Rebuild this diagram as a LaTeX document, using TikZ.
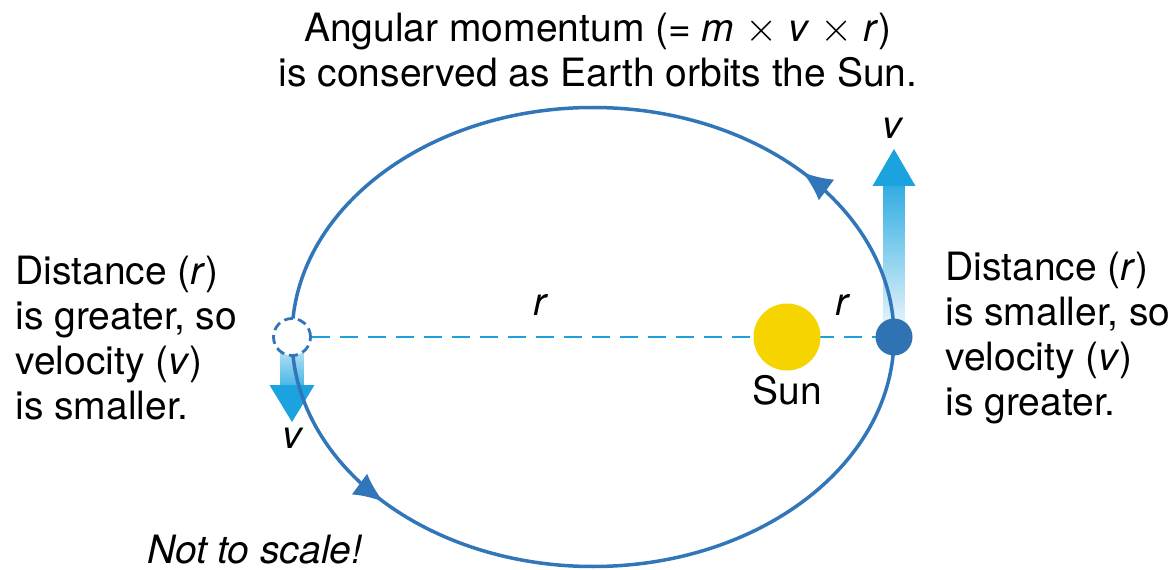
\documentclass[tikz,border=0pt]{standalone}
\usepackage{fontspec}
\setmainfont{TeX Gyre Heros}
\usepackage{xcolor}
\usetikzlibrary{arrows.meta,positioning,decorations.markings}
\definecolor{orbitblue}{RGB}{50,118,186}
\definecolor{dashblue}{RGB}{30,160,218}
\definecolor{velblue}{RGB}{26,163,222}
\definecolor{sunyellow}{RGB}{245,212,0}
\definecolor{earthblue}{RGB}{47,115,180}

\begin{document}
\begin{tikzpicture}[x=0.5pt,y=0.5pt,>=Latex,font=\fontsize{19.5}{22.5}\selectfont]
\tikzstyle{txt}=[align=left, inner sep=0pt]
\tikzstyle{planet}=[circle, minimum size=18.5pt, inner sep=0pt]
\tikzstyle{orbit}=[draw=orbitblue, line width=1.75pt]
\tikzstyle{orbitarrow}=[postaction={decorate}, decoration={markings,
  mark=at position 0.117 with {\arrow{Latex[length=15pt,width=13pt]}},
  mark=at position 0.617 with {\arrow{Latex[length=15pt,width=13pt]}}}]
\useasboundingbox (0,0) rectangle (1169,569);
\coordinate (centre) at (593,232);
\coordinate (peri) at (894,232);
\coordinate (aph) at (292,232);
% velocity arrows
\shade[top color=velblue!90, bottom color=velblue!5] ([shift={(-10.5,0)}]peri) rectangle ([shift={(10.5,152)}]peri);
\fill[velblue] ([shift={(-21.5,151)}]peri) -- ([shift={(21.5,151)}]peri) -- ([shift={(0,188)}]peri) -- cycle;
\shade[top color=velblue!15, bottom color=velblue!80] ([shift={(-11.5,0)}]aph) rectangle ([shift={(11.5,-49)}]aph);
\fill[velblue] ([shift={(-22.5,-48)}]aph) -- ([shift={(22.5,-48)}]aph) -- ([shift={(0,-85)}]aph) -- cycle;
% orbit and distance line
\draw[orbit, orbitarrow] (centre) ellipse [x radius=301, y radius=229.5];
\draw[dashblue, line width=1pt, dash pattern=on 9pt off 5pt, dash phase=4pt] (aph) -- (peri);
\node[planet, fill=white, draw=orbitblue, line width=1.4pt, dash pattern=on 4.5pt off 2.5pt] (far) at (aph) {};
\node[planet, fill=earthblue] (earth) at (peri) {};
\node[circle, minimum size=33.5pt, inner sep=0pt, fill=sunyellow] (sun) at (787,232) {};
\node[below=2pt of sun, inner sep=0pt] (sunlabel) {Sun};
% labels
\node at (541,264) {\textit{r}};
\node at (843,264) {\textit{r}};
\node at (893,441) {\textit{v}};
\node at (293,131) {\textit{v}};
\node[align=center, inner sep=0pt] (title) at (598,519) {Angular momentum (= \textit{m} $\times$ \textit{v} $\times$ \textit{r})\\is conserved as Earth orbits the Sun.};
\node[txt, anchor=west] (lefttxt) at (15,231) {Distance (\textit{r})\\is greater, so\\velocity (\textit{v})\\is smaller.};
\node[txt, anchor=west] (righttxt) at (945,231) {Distance (\textit{r})\\is smaller, so\\velocity (\textit{v})\\is greater.};
\node[inner sep=0pt] (note) at (255,19) {\textit{Not to scale!}};
\end{tikzpicture}
\end{document}
